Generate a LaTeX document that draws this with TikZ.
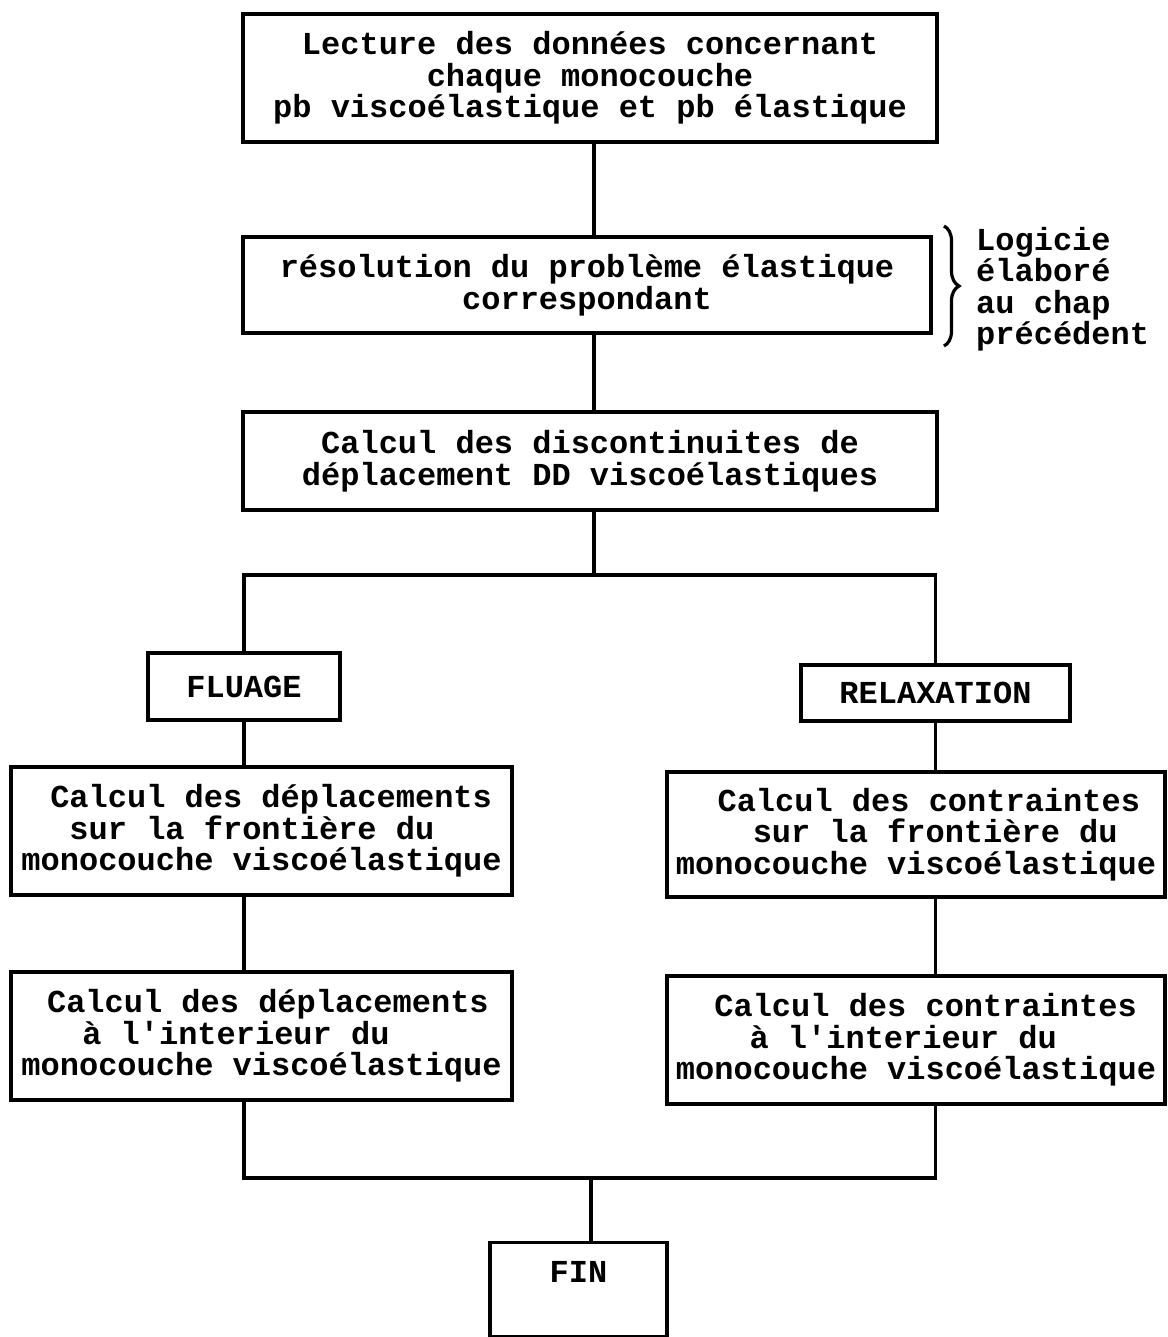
\documentclass[tikz,border=0pt]{standalone}
\usepackage{fontspec}
\setmainfont{Liberation Mono}
\usetikzlibrary{decorations.pathreplacing}
\begin{document}
\begin{tikzpicture}[x=1pt,y=-1pt,
  txt/.style={font=\fontsize{32}{31.5}\selectfont\bfseries},
  box/.style={txt, draw, line width=3.2pt, inner sep=0pt},
  conn/.style={line width=3.2pt}]
\useasboundingbox (0,0) rectangle (1167,1337);
% main column
\node[box, minimum width=694, minimum height=128, align=center] (b1) at (590,78)
  {Lecture des données concernant\\chaque monocouche\\pb viscoélastique et pb élastique};
\node[box, minimum width=688, minimum height=96, align=center] (b2) at (587,285)
  {résolution du problème élastique\\correspondant};
\node[box, minimum width=694, minimum height=98, align=center] (b3) at (590,461)
  {Calcul des discontinuites de\\déplacement DD viscoélastiques};
% note with brace
\coordinate (bt) at (944,226);
\coordinate (bb) at (944,346);
\draw[conn, decorate, decoration={brace, amplitude=15pt}] (bt) -- (bb);
\node[txt, anchor=west, align=left, inner sep=0pt] (note) at (976,289)
  {Logicie\\élaboré\\au chap\\précédent};
% branches
\node[box, minimum width=192, minimum height=67] (flu) at (244,686.5) {FLUAGE};
\node[box, minimum width=269, minimum height=56] (rel) at (935.5,693) {RELAXATION};
\node[box, minimum width=501, minimum height=128, align=left] (l1) at (261.5,831)
  {\hspace*{0.9em}Calcul des déplacements\\\hspace*{1.5em}sur la frontière du\\monocouche viscoélastique};
\node[box, minimum width=501, minimum height=128, align=left] (l2) at (261.5,1036)
  {\hspace*{0.8em}Calcul des déplacements\\\hspace*{1.9em}à l\textquotesingle interieur du\\monocouche viscoélastique};
\node[box, minimum width=498, minimum height=125, align=left] (r1) at (916,834.5)
  {\hspace*{1.3em}Calcul des contraintes\\\hspace*{2.4em}sur la frontière du\\monocouche viscoélastique};
\node[box, minimum width=498, minimum height=128, align=left] (r2) at (916,1040)
  {\hspace*{1.2em}Calcul des contraintes\\\hspace*{2.3em}à l\textquotesingle interieur du\\monocouche viscoélastique};
\node[box, minimum width=177, text height=40pt, text depth=54pt, anchor=north] (fin) at (578.5,1241) {FIN};
% connectors
\coordinate (split) at (594,575);
\coordinate (join) at (591,1178);
\draw[conn] (b1.south -| split) -- (b2.north -| split);
\draw[conn] (b2.south -| split) -- (b3.north -| split);
\draw[conn] (b3.south -| split) -- (split);
\draw[conn] (flu.north) -- (flu.north |- split) -- (rel.north |- split) -- (rel.north);
\draw[conn] (flu.south) -- (flu.south |- l1.north);
\draw[conn] (l1.south -| flu) -- (l2.north -| flu);
\draw[conn] (rel.south) -- (rel.south |- r1.north);
\draw[conn] (r1.south -| rel) -- (r2.north -| rel);
\draw[conn] (l2.south -| flu) -- (flu |- join) -- (rel |- join) -- (r2.south -| rel);
\draw[conn] (join) -- (join |- fin.north);
\end{tikzpicture}
\end{document}
